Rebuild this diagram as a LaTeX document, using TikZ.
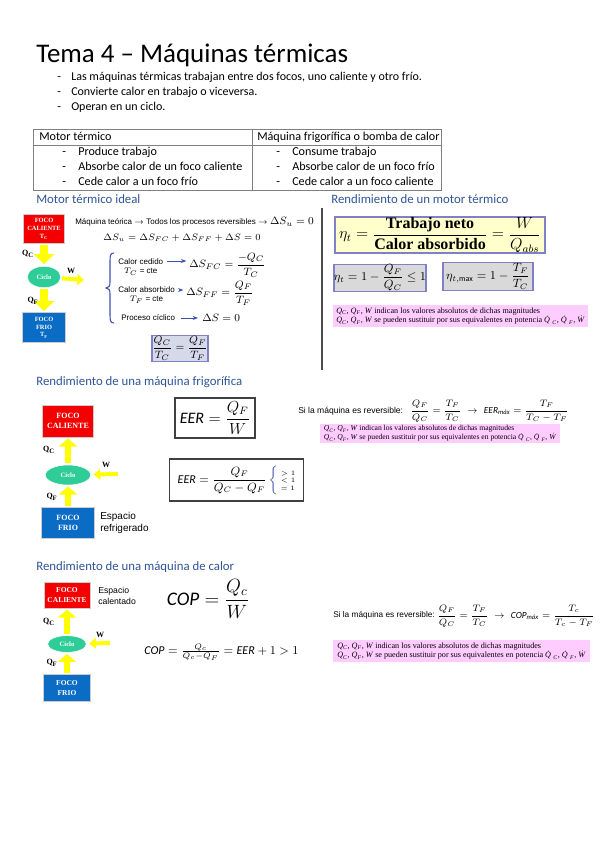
\documentclass[tikz,border=0pt]{standalone}
\usepackage{amsmath}
\usepackage{fontspec}
\setmainfont{Carlito}
\newfontfamily\arialf{Liberation Sans}
\newfontfamily\timesf{Liberation Serif}
\usepackage{tikz}
\usetikzlibrary{arrows.meta,shapes.geometric}

\definecolor{headblue}{HTML}{2F5597}
\definecolor{focored}{HTML}{F40000}
\definecolor{focoblue}{HTML}{0A6CC4}
\definecolor{ciclogreen}{HTML}{2ECC96}
\definecolor{flechay}{HTML}{FFFF00}
\definecolor{boxedge}{HTML}{8080C8}
\definecolor{notapink}{HTML}{FFCCFF}
\definecolor{amarillo}{HTML}{FFFFCC}
\definecolor{gris}{HTML}{D9D9D9}
\definecolor{grisazul}{HTML}{D6D9E9}
\definecolor{llave}{HTML}{3B4FB5}
\definecolor{linea}{HTML}{808080}

\newcommand{\fsz}[2]{\fontsize{#1}{#2}\selectfont}
\newcommand{\magsub}[2]{\textit{#1}\textsubscript{\textit{#2}}}
\newcommand{\notamag}{\magsub{Q}{C}, \magsub{Q}{F}, \textit{W} indican los valores absolutos de dichas magnitudes\\
  \magsub{Q}{C}, \magsub{Q}{F}, \textit{W} se pueden sustituir por sus equivalentes en potencia \magsub{\.{Q}}{C}, \magsub{\.{Q}}{F}, \textit{\.{W}}}

\begin{document}
\begin{tikzpicture}[x=0.75pt, y=-0.75pt]

\tikzstyle{titulo} = [anchor=base west, inner sep=0pt, font=\fsz{20.2}{22}]
\tikzstyle{punto} = [anchor=base west, inner sep=0pt, font=\fsz{9}{10}]
\tikzstyle{celda} = [anchor=base west, inner sep=0pt, font=\fsz{9.1}{10}]
\tikzstyle{tabla} = [draw=linea, line width=0.5pt]
\tikzstyle{heading} = [anchor=base west, inner sep=0pt, text=headblue, font=\fsz{9.6}{11}]
\tikzstyle{foco} = [rectangle, draw=gray!40, text=white, align=center, inner sep=0pt, font=\timesf\bfseries]
\tikzstyle{caliente} = [foco, fill=focored]
\tikzstyle{frio} = [foco, fill=focoblue]
\tikzstyle{ciclo} = [ellipse, fill=ciclogreen, draw=white, text=white, inner sep=0pt, font=\timesf\bfseries\fsz{5}{6}]
\tikzstyle{flujo} = [draw=flechay, line width=4.5pt, -{Triangle[length=6pt,width=13.5pt]}]
\tikzstyle{trabajo} = [draw=flechay, line width=3pt, -{Triangle[length=5pt,width=8pt]}]
\tikzstyle{etiq} = [inner sep=0pt, font=\timesf\bfseries\fsz{6}{7}]
\tikzstyle{arial} = [anchor=west, inner sep=0pt, font=\arialf\fsz{6}{7}]
\tikzstyle{conecta} = [draw=llave, line width=0.7pt, -{Stealth[length=4pt]}]
\tikzstyle{caja} = [rectangle, draw=boxedge, line width=0.9pt, inner sep=0pt]
\tikzstyle{marco} = [rectangle, draw=black!75, line width=0.8pt, inner sep=0pt]
\tikzstyle{nota} = [rectangle, fill=notapink, align=left, inner xsep=2pt, inner ysep=1pt, font=\timesf\fsz{6.1}{7.3}]

    % Page
    \fill[white] (0,0) rectangle (599,848);
    \path[use as bounding box] (0,0) rectangle (599,848);

    % Title and bullets
    \node[titulo] (tit) at (36,63) {Tema 4 – Máquinas térmicas};
    \node[punto] (p1) at (57,81) {\makebox[10.5pt][l]{-}Las máquinas térmicas trabajan entre dos focos, uno caliente y otro frío.};
    \node[punto] (p2) at (57,96) {\makebox[10.5pt][l]{-}Convierte calor en trabajo o viceversa.};
    \node[punto] (p3) at (57,111) {\makebox[10.5pt][l]{-}Operan en un ciclo.};

    % Table
    \draw[tabla] (33,129) rectangle (441,190);
    \draw[tabla] (33,145) -- (441,145);
    \draw[tabla] (252,129) -- (252,190);
    \node[celda] (hmot) at (39,141) {Motor térmico};
    \node[celda] (hmaq) at (257,141) {Máquina frigorífica o bomba de calor};
    \node[celda] (m1) at (62,156) {\makebox[12pt][l]{-}Produce trabajo};
    \node[celda] (m2) at (62,171) {\makebox[12pt][l]{-}Absorbe calor de un foco caliente};
    \node[celda] (m3) at (62,186) {\makebox[12pt][l]{-}Cede calor a un foco frío};
    \node[celda] (f1) at (276,156) {\makebox[12pt][l]{-}Consume trabajo};
    \node[celda] (f2) at (276,171) {\makebox[12pt][l]{-}Absorbe calor de un foco frío};
    \node[celda] (f3) at (276,186) {\makebox[12pt][l]{-}Cede calor a un foco caliente};

    % Motor termico ideal
    \node[heading] (sec1) at (36,204) {Motor térmico ideal};
    \node[caliente, minimum width=31pt, minimum height=22pt, font=\timesf\bfseries\fsz{4.8}{5.8}] (cal1) at (44,229) {FOCO\\CALIENTE\\T\textsubscript{C}};
    \node[ciclo, minimum width=25pt, minimum height=16pt, below of=cal1, node distance=36pt] (ciclo1) {Ciclo};
    \node[frio, minimum width=32pt, minimum height=22.5pt, font=\timesf\bfseries\fsz{4.8}{5.8}, below of=ciclo1, node distance=38pt] (frio1) {FOCO\\FRIO\\T\textsubscript{F}};
    \coordinate (w1) at (84,280);
    \path[flujo, line width=6pt, -{Triangle[length=7.5pt,width=15pt]}, shorten <=1pt, shorten >=1.5pt] (cal1) -- (ciclo1);
    \path[flujo, line width=6pt, -{Triangle[length=7.5pt,width=15pt]}, shorten <=1pt, shorten >=1pt] (ciclo1) -- (frio1);
    \path[trabajo, shorten <=1pt] (ciclo1) -- (w1);
    \node[etiq] (qc1) at (28,254) {Q\textsubscript{C}};
    \node[etiq] (wl1) at (71,271) {W};
    \node[etiq] (qf1) at (33,301) {Q\textsubscript{F}};

    \node[arial] (teo) at (75,222) {Máquina teórica $\rightarrow$ Todos los procesos reversibles $\rightarrow$ {\fsz{8}{9}$\Delta S_u = 0$}};
    \node[inner sep=0pt, font=\fsz{7}{8}] (dsu) at (182,238) {$\Delta S_u = \Delta S_{FC} + \Delta S_{FF} + \Delta S = 0$};
    \draw[llave, line width=0.8pt] (114,253) .. controls (110,253) and (110,256) .. (110,262) -- (110,282)
      .. controls (110,286) and (109,288) .. (106,288) .. controls (109,288) and (110,290) .. (110,294)
      -- (110,314) .. controls (110,320) and (110,323) .. (114,323);
    \node[arial, align=center] (ced) at (118,267) {Calor cedido\\$T_C$ = cte};
    \node[arial, align=center] (abs) at (118,295) {Calor absorbido\\$T_F$ = cte};
    \node[arial] (cic) at (121,318) {Proceso cíclico};
    \node[anchor=west, inner sep=0pt, font=\fsz{8}{9}] (dsfc) at (189,265) {$\Delta S_{FC} = \dfrac{-Q_C}{T_C}$};
    \node[anchor=west, inner sep=0pt, font=\fsz{8}{9}] (dsff) at (186,293) {$\Delta S_{FF} = \dfrac{Q_F}{T_F}$};
    \node[anchor=west, inner sep=0pt, font=\fsz{8}{9}] (dsc) at (202,318) {$\Delta S = 0$};
    \path[conecta, shorten <=3pt, shorten >=2pt] (ced.north east |- dsfc.west) ++(0,-4) coordinate (a1) (a1) -- (a1 -| dsfc.west);
    \path[conecta, shorten <=3pt, shorten >=2pt] (abs.north east |- dsff.west) ++(0,-3) coordinate (a2) (a2) -- (a2 -| dsff.west);
    \path[conecta, shorten <=4pt, shorten >=3pt] (cic) -- (dsc);
    \node[caja, fill=grisazul, minimum width=42pt, minimum height=20pt, font=\fsz{8}{9}] (igual) at (180,348.5) {$\dfrac{Q_C}{T_C} = \dfrac{Q_F}{T_F}$};

    % Rendimiento de un motor termico
    \draw[black!70, line width=0.8pt] (322,208) -- (322,370);
    \node[heading] (sec2) at (331,204) {Rendimiento de un motor térmico};
    \node[caja, fill=amarillo, minimum width=157.5pt, minimum height=27pt, font=\fsz{12}{13}] (eta) at (440,235)
      {$\eta_t = \dfrac{\text{\timesf\bfseries Trabajo neto}}{\text{\timesf\bfseries Calor absorbido}} = \dfrac{W}{Q_{abs}}$};
    \node[caja, fill=gris, minimum width=67.5pt, minimum height=19pt, font=\fsz{9}{10}] (eta1) at (380,278) {$\eta_t = 1 - \dfrac{Q_F}{Q_C} \le 1$};
    \node[caja, fill=gris, minimum width=67.5pt, minimum height=20.5pt, font=\fsz{9}{10}] (etamax) at (488,276.5) {$\eta_{t,\max} = 1 - \dfrac{T_F}{T_C}$};
    \node[nota, minimum width=191pt, minimum height=16.5pt] (nota1) at (460.5,316) {\notamag};

    % Rendimiento de una maquina frigorifica
    \node[heading] (sec3) at (36,385) {Rendimiento de una máquina frigorífica};
    \node[caliente, minimum width=38pt, minimum height=24pt, font=\timesf\bfseries\fsz{6}{7.5}] (cal2) at (68,421) {FOCO\\CALIENTE};
    \node[ciclo, minimum width=34pt, minimum height=15pt, below of=cal2, node distance=40.5pt] (ciclo2) {Ciclo};
    \node[frio, minimum width=40pt, minimum height=23pt, font=\timesf\bfseries\fsz{6}{7.5}, below of=ciclo2, node distance=36pt] (frio2) {FOCO\\FRIO};
    \coordinate (w2) at (118,474);
    \path[flujo, shorten <=1pt, shorten >=1pt] (ciclo2) -- (cal2);
    \path[flujo, shorten <=1pt, shorten >=1pt] (frio2) -- (ciclo2);
    \path[trabajo, shorten >=2pt] (w2) -- (ciclo2);
    \node[etiq] (qc2) at (49,450) {Q\textsubscript{C}};
    \node[etiq] (wl2) at (106,465) {W};
    \node[etiq] (qf2) at (52,497) {Q\textsubscript{F}};
    \node[arial, align=left, font=\arialf\fsz{7.5}{9}] (refr) at (100,523) {Espacio\\refrigerado};

    \node[marco, minimum width=60pt, minimum height=30pt, font=\fsz{12}{13}] (eer1) at (215,418) {$\mathit{EER} = \dfrac{Q_F}{W}$};
    \node[marco, minimum width=100pt, minimum height=31.5pt, font=\fsz{9}{10}] (eer2) at (236.5,480)
      {$\mathit{EER} = \dfrac{Q_F}{Q_C - Q_F}\,{\color{llave}\left\{\vphantom{\dfrac{Q_F}{Q_C}}\right.}$\hspace{1pt}{\timesf\fsz{5}{6}\begin{tabular}{@{}l@{}}$>1$\\[-0.5pt]$<1$\\[-0.5pt]$=1$\end{tabular}}};
    \node[arial, font=\arialf\fsz{6.4}{7}] (rev2) at (298,411) {Si la máquina es reversible:};
    \node[anchor=west, inner sep=0pt, font=\fsz{7}{8}] (fr2) at (410,411)
      {$\dfrac{Q_F}{Q_C} = \dfrac{T_F}{T_C} \;\rightarrow\; \mathit{EER}_{\text{\itshape máx}} = \dfrac{T_F}{T_C - T_F}$};
    \node[nota, minimum width=180pt, minimum height=14pt, font=\timesf\fsz{5.7}{6.8}] (nota2) at (440,433.5) {\notamag};

    % Rendimiento de una maquina de calor
    \node[heading] (sec4) at (36,570) {Rendimiento de una máquina de calor};
    \node[caliente, minimum width=34.5pt, minimum height=19.5pt, font=\timesf\bfseries\fsz{5.6}{7}] (cal3) at (67,595) {FOCO\\CALIENTE};
    \node[ciclo, minimum width=29pt, minimum height=12.5pt, below of=cal3, node distance=36.75pt] (ciclo3) {Ciclo};
    \node[frio, minimum width=35pt, minimum height=20pt, font=\timesf\bfseries\fsz{5.6}{7}, below of=ciclo3, node distance=33pt] (frio3) {FOCO\\FRIO};
    \coordinate (w3) at (110,643);
    \path[flujo, shorten <=1pt, shorten >=1pt] (ciclo3) -- (cal3);
    \path[flujo, shorten <=1pt, shorten >=1pt] (frio3) -- (ciclo3);
    \path[trabajo, shorten >=2pt] (w3) -- (ciclo3);
    \node[etiq] (qc3) at (49,622) {Q\textsubscript{C}};
    \node[etiq] (wl3) at (100,635) {W};
    \node[etiq] (qf3) at (52,663) {Q\textsubscript{F}};
    \node[arial, align=left, font=\arialf\fsz{6.5}{8.2}] (calen) at (98,595.5) {Espacio\\calentado};

    \node[inner sep=0pt, font=\fsz{14.4}{16}] (cop1) at (208,599) {$\mathit{COP} = \dfrac{Q_c}{W}$};
    \node[inner sep=0pt, font=\fsz{9}{10}] (cop2) at (221.5,652) {$\mathit{COP} = \tfrac{Q_c}{Q_c - Q_F} = \mathit{EER} + 1 > 1$};
    \node[arial, font=\arialf\fsz{6.2}{7}] (rev3) at (333,615) {Si la máquina es reversible:};
    \node[anchor=west, inner sep=0pt, font=\fsz{7}{8}] (fr3) at (437,616)
      {$\dfrac{Q_F}{Q_C} = \dfrac{T_F}{T_C} \;\rightarrow\; \mathit{COP}_{\text{\itshape máx}} = \dfrac{T_c}{T_c - T_F}$};
    \node[nota, minimum width=193pt, minimum height=16pt] (nota3) at (461.5,651) {\notamag};
\end{tikzpicture}
\end{document}
